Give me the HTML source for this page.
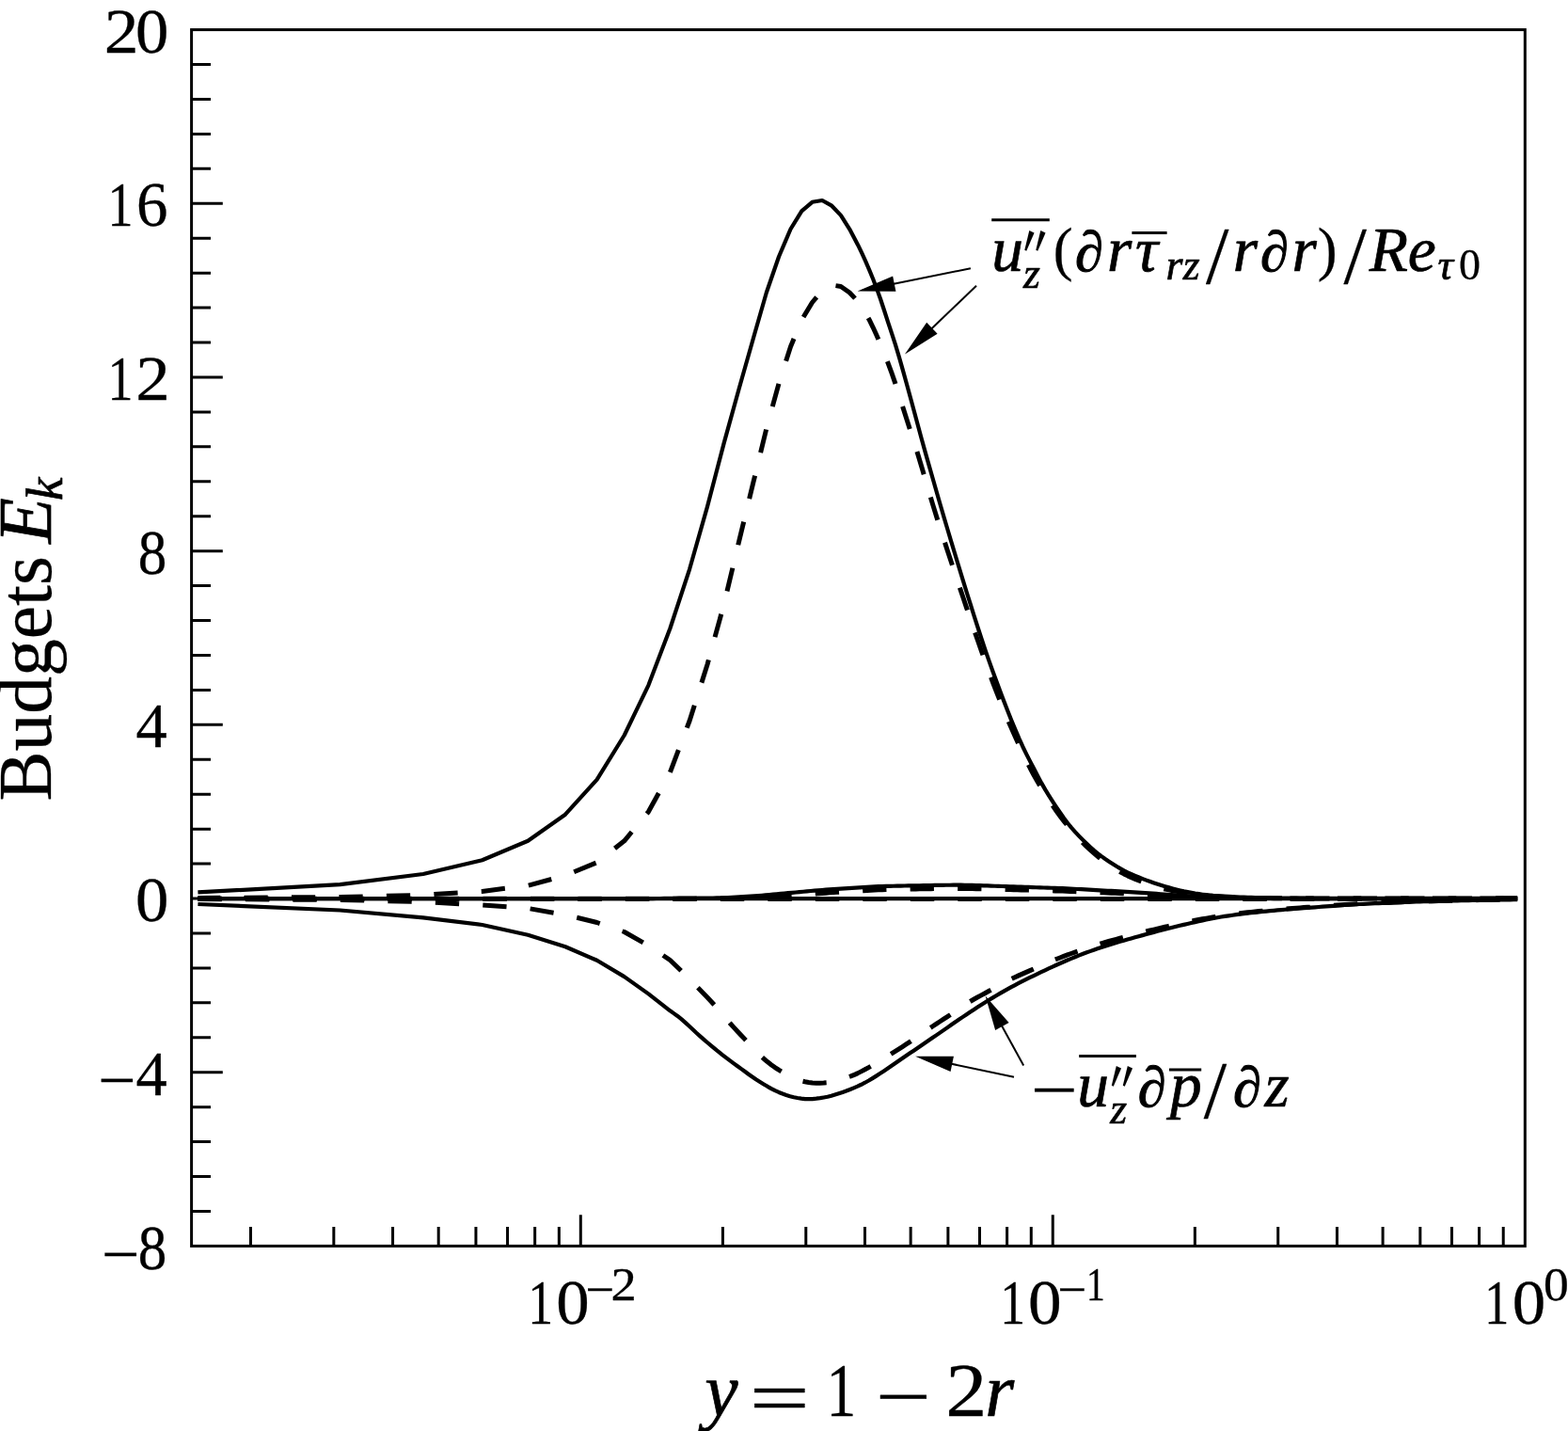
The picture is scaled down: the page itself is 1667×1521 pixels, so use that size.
<!DOCTYPE html>
<html lang="en"><head><meta charset="utf-8"><title>Budgets E_k</title>
<style>
html,body{margin:0;padding:0;background:#fff;overflow:hidden}
svg{display:block}
text{font-family:"Liberation Serif","DejaVu Serif",serif;fill:#000;stroke:#000;stroke-width:0.3px;stroke-linejoin:round}
.i{font-style:italic;stroke-width:0.7px}
.p{stroke-width:1.1px}
.q{stroke-width:0}
</style></head>
<body>
<svg width="1667" height="1521" viewBox="0 0 1667 1521">
<rect width="1667" height="1521" fill="#fff"/>
<g id="curves">
<path d="M210.42 955.1 L700 955.1 L1004.4 955.1 L1308.8 955.1 L1613.2 955.1" fill="none" stroke="#000" stroke-width="4.2" stroke-linejoin="round"/>
<path d="M210.42 955.1 L690 955.1 L694 955.07 L697.99 955.02 L701.99 954.98 L705.99 954.95 L709.98 954.92 L713.98 954.89 L717.98 954.87 L721.97 954.84 L725.97 954.82 L729.97 954.79 L733.96 954.77 L737.96 954.74 L741.95 954.71 L745.95 954.67 L749.95 954.63 L753.94 954.58 L757.94 954.53 L761.94 954.47 L765.93 954.36 L769.93 954.23 L773.93 954.05 L777.92 953.86 L781.92 953.63 L785.92 953.4 L789.91 953.15 L793.91 952.89 L797.91 952.63 L801.9 952.37 L805.9 952.09 L809.9 951.77 L813.89 951.43 L817.89 951.07 L821.89 950.69 L825.88 950.31 L829.88 949.93 L833.88 949.55 L837.87 949.19 L841.87 948.84 L845.86 948.48 L849.86 948.11 L853.86 947.75 L857.85 947.38 L861.85 947.02 L865.85 946.66 L869.84 946.32 L873.84 945.98 L877.84 945.66 L881.83 945.36 L885.83 945.08 L889.83 944.8 L893.82 944.53 L897.82 944.28 L901.82 944.03 L905.81 943.79 L909.81 943.55 L913.81 943.3 L917.8 943.06 L921.8 942.83 L925.8 942.6 L929.79 942.4 L933.79 942.22 L937.79 942.07 L941.78 941.95 L945.78 941.84 L949.77 941.75 L953.77 941.66 L957.77 941.58 L961.76 941.5 L965.76 941.43 L969.76 941.36 L973.75 941.3 L977.75 941.24 L981.75 941.17 L985.74 941.1 L989.74 941.03 L993.74 940.96 L997.73 940.89 L1001.73 940.83 L1005.73 940.77 L1009.72 940.73 L1013.72 940.71 L1017.72 940.7 L1021.71 940.72 L1025.71 940.78 L1029.71 940.85 L1033.7 940.95 L1037.7 941.07 L1041.7 941.19 L1045.69 941.33 L1049.69 941.46 L1053.68 941.6 L1057.68 941.73 L1061.68 941.85 L1065.67 941.98 L1069.67 942.11 L1073.67 942.25 L1077.66 942.39 L1081.66 942.54 L1085.66 942.68 L1089.65 942.83 L1093.65 942.97 L1097.65 943.12 L1101.64 943.26 L1105.64 943.39 L1109.64 943.52 L1113.63 943.64 L1117.63 943.77 L1121.63 943.91 L1125.62 944.05 L1129.62 944.2 L1133.62 944.37 L1137.61 944.56 L1141.61 944.77 L1145.61 944.99 L1149.6 945.21 L1153.6 945.44 L1157.59 945.67 L1161.59 945.89 L1165.59 946.1 L1169.58 946.32 L1173.58 946.54 L1177.58 946.75 L1181.57 946.97 L1185.57 947.19 L1189.57 947.41 L1193.56 947.64 L1197.56 947.86 L1201.56 948.09 L1205.55 948.31 L1209.55 948.54 L1213.55 948.78 L1217.54 949.04 L1221.54 949.32 L1225.54 949.62 L1229.53 949.94 L1233.53 950.27 L1237.53 950.59 L1241.52 950.91 L1245.52 951.2 L1249.52 951.47 L1253.51 951.71 L1257.51 951.92 L1261.5 952.13 L1265.5 952.33 L1269.5 952.52 L1273.49 952.72 L1277.49 952.94 L1281.49 953.17 L1285.48 953.42 L1289.48 953.66 L1293.48 953.89 L1297.47 954.08 L1301.47 954.23 L1305.47 954.33 L1309.46 954.41 L1313.46 954.49 L1317.46 954.57 L1321.45 954.64 L1325.45 954.7 L1329.45 954.76 L1333.44 954.81 L1337.44 954.86 L1341.44 954.9 L1345.43 954.94 L1349.43 954.96 L1353.43 954.98 L1357.42 955 L1361.42 955 L1365.41 955.01 L1369.41 955.01 L1373.41 955.01 L1377.4 955.02 L1381.4 955.02 L1385.4 955.02 L1389.39 955.03 L1393.39 955.03 L1397.39 955.03 L1401.38 955.03 L1405.38 955.04 L1409.38 955.04 L1413.37 955.04 L1417.37 955.05 L1421.37 955.05 L1425.36 955.05 L1429.36 955.05 L1433.36 955.06 L1437.35 955.06 L1441.35 955.06 L1445.35 955.06 L1449.34 955.06 L1453.34 955.07 L1457.34 955.07 L1461.33 955.07 L1465.33 955.07 L1469.32 955.07 L1473.32 955.08 L1477.32 955.08 L1481.31 955.08 L1485.31 955.08 L1489.31 955.08 L1493.3 955.08 L1497.3 955.08 L1501.3 955.09 L1505.29 955.09 L1509.29 955.09 L1513.29 955.09 L1517.28 955.09 L1521.28 955.09 L1525.28 955.09 L1529.27 955.09 L1533.27 955.09 L1537.27 955.09 L1541.26 955.09 L1545.26 955.1 L1549.26 955.1 L1553.25 955.1 L1557.25 955.1 L1561.25 955.1 L1565.24 955.1 L1569.24 955.1 L1573.23 955.1 L1577.23 955.1 L1581.23 955.1 L1585.22 955.1 L1589.22 955.1 L1593.22 955.1 L1597.21 955.1 L1601.21 955.1 L1605.21 955.1 L1609.2 955.1 L1613.2 955.1" fill="none" stroke="#000" stroke-width="4.2" stroke-linejoin="round"/>
<path d="M210.42 955.4 L700 955.4 L1004.4 955.4 L1308.8 955.4 L1613.2 955.4" fill="none" stroke="#000" stroke-width="5" stroke-linejoin="round" stroke-dasharray="25.3 25.2"/>
<path d="M210.42 955.1 L690 955.3 L694 955.27 L697.99 955.22 L701.99 955.19 L705.99 955.17 L709.98 955.15 L713.98 955.14 L717.98 955.13 L721.97 955.12 L725.97 955.11 L729.97 955.1 L733.96 955.1 L737.96 955.09 L741.95 955.08 L745.95 955.06 L749.95 955.05 L753.94 955.03 L757.94 955.01 L761.94 954.99 L765.93 954.94 L769.93 954.87 L773.93 954.79 L777.92 954.69 L781.92 954.58 L785.92 954.46 L789.91 954.33 L793.91 954.2 L797.91 954.07 L801.9 953.93 L805.9 953.78 L809.9 953.62 L813.89 953.44 L817.89 953.24 L821.89 953.03 L825.88 952.82 L829.88 952.59 L833.88 952.36 L837.87 952.13 L841.87 951.88 L845.86 951.62 L849.86 951.33 L853.86 951.03 L857.85 950.71 L861.85 950.39 L865.85 950.07 L869.84 949.75 L873.84 949.44 L877.84 949.15 L881.83 948.88 L885.83 948.61 L889.83 948.36 L893.82 948.11 L897.82 947.86 L901.82 947.63 L905.81 947.39 L909.81 947.16 L913.81 946.91 L917.8 946.67 L921.8 946.43 L925.8 946.21 L929.79 946.01 L933.79 945.82 L937.79 945.67 L941.78 945.55 L945.78 945.44 L949.77 945.34 L953.77 945.25 L957.77 945.17 L961.76 945.09 L965.76 945.02 L969.76 944.95 L973.75 944.89 L977.75 944.83 L981.75 944.78 L985.74 944.72 L989.74 944.66 L993.74 944.6 L997.73 944.55 L1001.73 944.5 L1005.73 944.46 L1009.72 944.42 L1013.72 944.41 L1017.72 944.4 L1021.71 944.42 L1025.71 944.45 L1029.71 944.51 L1033.7 944.58 L1037.7 944.66 L1041.7 944.75 L1045.69 944.85 L1049.69 944.95 L1053.68 945.05 L1057.68 945.15 L1061.68 945.24 L1065.67 945.33 L1069.67 945.44 L1073.67 945.54 L1077.66 945.66 L1081.66 945.77 L1085.66 945.89 L1089.65 946 L1093.65 946.12 L1097.65 946.23 L1101.64 946.35 L1105.64 946.45 L1109.64 946.56 L1113.63 946.67 L1117.63 946.77 L1121.63 946.88 L1125.62 947 L1129.62 947.12 L1133.62 947.25 L1137.61 947.4 L1141.61 947.55 L1145.61 947.71 L1149.6 947.87 L1153.6 948.04 L1157.59 948.2 L1161.59 948.36 L1165.59 948.53 L1169.58 948.69 L1173.58 948.86 L1177.58 949.03 L1181.57 949.2 L1185.57 949.37 L1189.57 949.54 L1193.56 949.71 L1197.56 949.89 L1201.56 950.07 L1205.55 950.25 L1209.55 950.44 L1213.55 950.63 L1217.54 950.83 L1221.54 951.04 L1225.54 951.26 L1229.53 951.49 L1233.53 951.72 L1237.53 951.95 L1241.52 952.17 L1245.52 952.38 L1249.52 952.58 L1253.51 952.76 L1257.51 952.93 L1261.5 953.09 L1265.5 953.24 L1269.5 953.4 L1273.49 953.54 L1277.49 953.7 L1281.49 953.86 L1285.48 954.02 L1289.48 954.18 L1293.48 954.33 L1297.47 954.45 L1301.47 954.55 L1305.47 954.62 L1309.46 954.68 L1313.46 954.74 L1317.46 954.79 L1321.45 954.84 L1325.45 954.89 L1329.45 954.93 L1333.44 954.97 L1337.44 955 L1341.44 955.03 L1345.43 955.06 L1349.43 955.08 L1353.43 955.09 L1357.42 955.1 L1361.42 955.1 L1365.41 955.1 L1369.41 955.1 L1373.41 955.1 L1377.4 955.1 L1381.4 955.1 L1385.4 955.1 L1389.39 955.1 L1393.39 955.1 L1397.39 955.1 L1401.38 955.1 L1405.38 955.1 L1409.38 955.1 L1413.37 955.1 L1417.37 955.1 L1421.37 955.1 L1425.36 955.1 L1429.36 955.1 L1433.36 955.1 L1437.35 955.1 L1441.35 955.1 L1445.35 955.1 L1449.34 955.1 L1453.34 955.1 L1457.34 955.1 L1461.33 955.1 L1465.33 955.1 L1469.32 955.1 L1473.32 955.1 L1477.32 955.1 L1481.31 955.1 L1485.31 955.1 L1489.31 955.1 L1493.3 955.1 L1497.3 955.1 L1501.3 955.1 L1505.29 955.1 L1509.29 955.1 L1513.29 955.1 L1517.28 955.1 L1521.28 955.1 L1525.28 955.1 L1529.27 955.1 L1533.27 955.1 L1537.27 955.1 L1541.26 955.1 L1545.26 955.1 L1549.26 955.1 L1553.25 955.1 L1557.25 955.1 L1561.25 955.1 L1565.24 955.1 L1569.24 955.1 L1573.23 955.1 L1577.23 955.1 L1581.23 955.1 L1585.22 955.1 L1589.22 955.1 L1593.22 955.1 L1597.21 955.1 L1601.21 955.1 L1605.21 955.1 L1609.2 955.1 L1613.2 955.1" fill="none" stroke="#000" stroke-width="5" stroke-linejoin="round" stroke-dasharray="25.3 25.2"/>
<path d="M210.42 948.4 L361.52 940.2 L449.91 929 L512.62 914.3 L561.27 893.8 L601.01 865.7 L634.62 828.6 L663.73 781.5 L689.4 728.3 L712.37 668 L733.15 604.8 L752.11 538.1 L769.56 471.4 L785.72 413 L800.76 360 L814.83 311 L828.04 272.8 L840.5 243.5 L852.29 224.3 L863.47 214.8 L874.11 213 L884.25 218.7 L893.94 228.9 L903.22 243.6 L912.12 260.4 L916.1 268.66 L920.08 277.4 L924.07 286.59 L928.05 296.33 L932.03 306.65 L936.02 317.73 L940 329.73 L943.98 342.1 L947.97 354.09 L951.95 366.33 L955.93 379.56 L959.92 393.66 L963.9 407.95 L967.88 422.51 L971.87 437.28 L975.85 452.03 L979.83 466.7 L983.82 481.13 L987.8 495.12 L991.78 508.99 L995.77 522.99 L999.75 536.74 L1003.73 550.31 L1007.72 563.75 L1011.7 577.06 L1015.68 590.26 L1019.67 603.37 L1023.65 616.38 L1027.63 629.25 L1031.62 641.95 L1035.6 654.51 L1039.59 666.99 L1043.57 679.27 L1047.55 691.2 L1051.54 702.67 L1055.52 713.75 L1059.5 724.54 L1063.49 735.16 L1067.47 745.72 L1071.45 756.11 L1075.44 766.01 L1079.42 775.66 L1083.4 784.95 L1087.39 793.72 L1091.37 801.85 L1095.35 809.59 L1099.34 817.29 L1103.32 824.96 L1107.3 832.39 L1111.29 839.39 L1115.27 845.94 L1119.25 852.19 L1123.24 858.18 L1127.22 863.98 L1131.2 869.65 L1135.19 875.03 L1139.17 879.93 L1143.15 884.4 L1147.14 888.59 L1151.12 892.63 L1155.1 896.59 L1159.09 900.39 L1163.07 903.91 L1167.06 907.12 L1171.04 910.12 L1175.02 912.95 L1179.01 915.65 L1182.99 918.24 L1186.97 920.74 L1190.96 923.11 L1194.94 925.31 L1198.92 927.31 L1202.91 929.16 L1206.89 930.9 L1210.87 932.54 L1214.86 934.11 L1218.84 935.61 L1222.82 937.05 L1226.81 938.41 L1230.79 939.73 L1234.77 940.98 L1238.76 942.19 L1242.74 943.33 L1246.72 944.41 L1250.71 945.45 L1254.69 946.43 L1258.67 947.33 L1262.66 948.13 L1266.64 948.89 L1270.62 949.59 L1274.61 950.2 L1278.59 950.72 L1282.57 951.18 L1286.56 951.6 L1290.54 951.98 L1294.53 952.3 L1298.51 952.57 L1302.49 952.78 L1306.48 952.99 L1310.46 953.18 L1314.44 953.36 L1318.43 953.52 L1322.41 953.67 L1326.39 953.81 L1330.38 953.93 L1334.36 954.04 L1338.34 954.13 L1342.33 954.2 L1346.31 954.27 L1350.29 954.33 L1354.28 954.39 L1358.26 954.45 L1362.24 954.51 L1366.23 954.56 L1370.21 954.61 L1374.19 954.65 L1378.18 954.69 L1382.16 954.73 L1386.14 954.76 L1390.13 954.78 L1394.11 954.79 L1398.09 954.8 L1402.08 954.8 L1406.06 954.8 L1410.04 954.8 L1414.03 954.8 L1418.01 954.8 L1422 954.8 L1425.98 954.8 L1429.96 954.8 L1433.95 954.8 L1437.93 954.8 L1441.91 954.8 L1445.9 954.8 L1449.88 954.8 L1453.86 954.8 L1457.85 954.8 L1461.83 954.8 L1465.81 954.8 L1469.8 954.8 L1473.78 954.8 L1477.76 954.8 L1481.75 954.79 L1485.73 954.79 L1489.71 954.79 L1493.7 954.79 L1497.68 954.79 L1501.66 954.79 L1505.65 954.79 L1509.63 954.79 L1513.61 954.78 L1517.6 954.78 L1521.58 954.78 L1525.56 954.78 L1529.55 954.78 L1533.53 954.78 L1537.51 954.77 L1541.5 954.77 L1545.48 954.77 L1549.47 954.77 L1553.45 954.76 L1557.43 954.76 L1561.42 954.76 L1565.4 954.75 L1569.38 954.75 L1573.37 954.75 L1577.35 954.74 L1581.33 954.74 L1585.32 954.73 L1589.3 954.73 L1593.28 954.73 L1597.27 954.72 L1601.25 954.72 L1605.23 954.71 L1609.22 954.71 L1613.2 954.7" fill="none" stroke="#000" stroke-width="4.2" stroke-linejoin="round"/>
<path d="M210.42 961 L361.52 967.5 L449.91 975.4 L512.62 983 L561.27 993.8 L601.01 1006.3 L634.62 1020.8 L663.73 1038.1 L689.4 1056.4 L712.37 1074.3 L716.36 1077.11 L720.34 1079.94 L724.33 1083.13 L728.31 1086.63 L732.3 1090.32 L736.29 1094.07 L740.27 1097.78 L744.26 1101.32 L748.24 1104.8 L752.23 1108.25 L756.22 1111.64 L760.2 1114.97 L764.19 1118.21 L768.17 1121.35 L772.16 1124.41 L776.14 1127.4 L780.13 1130.34 L784.12 1133.25 L788.1 1136.14 L792.09 1139.05 L796.07 1141.96 L800.06 1144.79 L804.05 1147.49 L808.03 1150.02 L812.02 1152.44 L816 1154.81 L819.99 1157.06 L823.98 1159.13 L827.96 1160.94 L831.95 1162.49 L835.93 1163.93 L839.92 1165.21 L843.91 1166.25 L847.89 1166.97 L851.88 1167.58 L855.86 1168.04 L859.85 1168.2 L863.84 1168.04 L867.82 1167.65 L871.81 1167.12 L875.79 1166.5 L879.78 1165.8 L883.77 1164.81 L887.75 1163.6 L891.74 1162.29 L895.72 1160.95 L899.71 1159.54 L903.7 1158.01 L907.68 1156.37 L911.67 1154.63 L915.65 1152.77 L919.64 1150.74 L923.63 1148.51 L927.61 1146.12 L931.6 1143.63 L935.58 1141.09 L939.57 1138.53 L943.56 1135.85 L947.54 1133.09 L951.53 1130.28 L955.51 1127.48 L959.5 1124.73 L963.49 1122.02 L967.47 1119.33 L971.46 1116.65 L975.44 1113.96 L979.43 1111.26 L983.42 1108.55 L987.4 1105.83 L991.39 1103.1 L995.37 1100.36 L999.36 1097.62 L1003.35 1094.88 L1007.33 1092.12 L1011.32 1089.34 L1015.3 1086.57 L1019.29 1083.82 L1023.28 1081.12 L1027.26 1078.46 L1031.25 1075.81 L1035.23 1073.19 L1039.22 1070.59 L1043.21 1068.02 L1047.19 1065.5 L1051.18 1063.02 L1055.16 1060.6 L1059.15 1058.22 L1063.14 1055.89 L1067.12 1053.6 L1071.11 1051.36 L1075.09 1049.16 L1079.08 1047.03 L1083.07 1044.95 L1087.05 1042.92 L1091.04 1040.94 L1095.02 1038.98 L1099.01 1037.05 L1103 1035.12 L1106.98 1033.2 L1110.97 1031.3 L1114.95 1029.43 L1118.94 1027.58 L1122.92 1025.77 L1126.91 1024 L1130.9 1022.26 L1134.88 1020.55 L1138.87 1018.86 L1142.85 1017.22 L1146.84 1015.63 L1150.83 1014.08 L1154.81 1012.58 L1158.8 1011.12 L1162.78 1009.69 L1166.77 1008.3 L1170.76 1006.96 L1174.74 1005.66 L1178.73 1004.4 L1182.71 1003.18 L1186.7 1001.99 L1190.69 1000.82 L1194.67 999.68 L1198.66 998.55 L1202.64 997.44 L1206.63 996.33 L1210.62 995.23 L1214.6 994.13 L1218.59 993.03 L1222.57 991.94 L1226.56 990.86 L1230.55 989.79 L1234.53 988.73 L1238.52 987.69 L1242.5 986.68 L1246.49 985.68 L1250.48 984.72 L1254.46 983.79 L1258.45 982.87 L1262.43 981.95 L1266.42 981.04 L1270.41 980.13 L1274.39 979.25 L1278.38 978.38 L1282.36 977.54 L1286.35 976.74 L1290.34 975.96 L1294.32 975.23 L1298.31 974.54 L1302.29 973.9 L1306.28 973.31 L1310.27 972.74 L1314.25 972.2 L1318.24 971.68 L1322.22 971.18 L1326.21 970.7 L1330.2 970.24 L1334.18 969.8 L1338.17 969.37 L1342.15 968.96 L1346.14 968.56 L1350.13 968.17 L1354.11 967.79 L1358.1 967.42 L1362.08 967.07 L1366.07 966.73 L1370.06 966.41 L1374.04 966.09 L1378.03 965.78 L1382.01 965.48 L1386 965.18 L1389.99 964.89 L1393.97 964.59 L1397.96 964.3 L1401.94 964 L1405.93 963.7 L1409.92 963.4 L1413.9 963.1 L1417.89 962.8 L1421.87 962.5 L1425.86 962.21 L1429.85 961.94 L1433.83 961.67 L1437.82 961.43 L1441.8 961.2 L1445.79 960.98 L1449.77 960.78 L1453.76 960.58 L1457.75 960.4 L1461.73 960.22 L1465.72 960.04 L1469.7 959.87 L1473.69 959.7 L1477.68 959.54 L1481.66 959.37 L1485.65 959.22 L1489.63 959.07 L1493.62 958.92 L1497.61 958.78 L1501.59 958.65 L1505.58 958.52 L1509.56 958.39 L1513.55 958.27 L1517.54 958.15 L1521.52 958.04 L1525.51 957.93 L1529.49 957.82 L1533.48 957.71 L1537.47 957.61 L1541.45 957.52 L1545.44 957.42 L1549.42 957.33 L1553.41 957.24 L1557.4 957.15 L1561.38 957.06 L1565.37 956.98 L1569.35 956.9 L1573.34 956.82 L1577.33 956.75 L1581.31 956.68 L1585.3 956.61 L1589.28 956.54 L1593.27 956.48 L1597.26 956.42 L1601.24 956.36 L1605.23 956.3 L1609.21 956.25 L1613.2 956.2" fill="none" stroke="#000" stroke-width="4.2" stroke-linejoin="round"/>
<path d="M210.42 954.5 L361.52 953.5 L449.91 951.3 L512.62 947.4 L561.27 941.2 L601.01 930.5 L634.62 916.7 L663.73 893.8 L689.4 862.8 L712.37 821 L733.15 766 L752.11 706 L769.56 642.6 L785.72 575.1 L800.76 513.2 L814.83 455.6 L828.04 407.5 L840.5 368.5 L852.29 340 L863.47 321.5 L874.11 309 L884.25 303 L893.94 304.5 L903.22 311 L912.12 320.5 L916.1 326.07 L920.08 332.54 L924.07 339.69 L928.05 347.81 L932.03 356.58 L936.02 365.69 L940 375.37 L943.98 385.56 L947.97 396.36 L951.95 407.84 L955.93 420.35 L959.92 433.07 L963.9 445.55 L967.88 457.98 L971.87 470.31 L975.85 483.04 L979.83 496.31 L983.82 509.7 L987.8 523.28 L991.78 536.62 L995.77 549.43 L999.75 561.95 L1003.73 574.26 L1007.72 586.47 L1011.7 598.57 L1015.68 610.55 L1019.67 622.43 L1023.65 634.26 L1027.63 646.08 L1031.62 657.86 L1035.6 669.53 L1039.59 681 L1043.57 692.33 L1047.55 703.55 L1051.54 714.57 L1055.52 725.27 L1059.5 735.59 L1063.49 745.66 L1067.47 755.48 L1071.45 765.03 L1075.44 774.26 L1079.42 783.22 L1083.4 792 L1087.39 800.55 L1091.37 808.81 L1095.35 816.72 L1099.34 824.22 L1103.32 831.24 L1107.3 837.87 L1111.29 844.25 L1115.27 850.46 L1119.25 856.46 L1123.24 862.21 L1127.22 867.66 L1131.2 872.88 L1135.19 877.89 L1139.17 882.67 L1143.15 887.2 L1147.14 891.54 L1151.12 895.7 L1155.1 899.65 L1159.09 903.38 L1163.07 906.93 L1167.06 910.33 L1171.04 913.54 L1175.02 916.54 L1179.01 919.33 L1182.99 921.97 L1186.97 924.45 L1190.96 926.76 L1194.94 928.89 L1198.92 930.86 L1202.91 932.71 L1206.89 934.43 L1210.87 936.05 L1214.86 937.6 L1218.84 939.11 L1222.82 940.54 L1226.81 941.88 L1230.79 943.08 L1234.77 944.12 L1238.76 945.05 L1242.74 945.9 L1246.72 946.68 L1250.71 947.4 L1254.69 948.08 L1258.67 948.73 L1262.66 949.36 L1266.64 949.95 L1270.62 950.49 L1274.61 950.98 L1278.59 951.4 L1282.57 951.78 L1286.56 952.14 L1290.54 952.46 L1294.53 952.74 L1298.51 952.97 L1302.49 953.17 L1306.48 953.36 L1310.46 953.54 L1314.44 953.7 L1318.43 953.86 L1322.41 954.01 L1326.39 954.14 L1330.38 954.25 L1334.36 954.35 L1338.34 954.43 L1342.33 954.5 L1346.31 954.56 L1350.29 954.61 L1354.28 954.66 L1358.26 954.71 L1362.24 954.76 L1366.23 954.8 L1370.21 954.84 L1374.19 954.88 L1378.18 954.91 L1382.16 954.94 L1386.14 954.96 L1390.13 954.98 L1394.11 954.99 L1398.09 955 L1402.08 955 L1406.06 955 L1410.04 955 L1414.03 955 L1418.01 955 L1422 955 L1425.98 955 L1429.96 955 L1433.95 955 L1437.93 955 L1441.91 955 L1445.9 955 L1449.88 955 L1453.86 955 L1457.85 955 L1461.83 955 L1465.81 954.99 L1469.8 954.99 L1473.78 954.99 L1477.76 954.99 L1481.75 954.99 L1485.73 954.99 L1489.71 954.99 L1493.7 954.98 L1497.68 954.98 L1501.66 954.98 L1505.65 954.98 L1509.63 954.97 L1513.61 954.97 L1517.6 954.97 L1521.58 954.96 L1525.56 954.96 L1529.55 954.96 L1533.53 954.95 L1537.51 954.95 L1541.5 954.94 L1545.48 954.94 L1549.47 954.93 L1553.45 954.93 L1557.43 954.92 L1561.42 954.91 L1565.4 954.91 L1569.38 954.9 L1573.37 954.89 L1577.35 954.88 L1581.33 954.88 L1585.32 954.87 L1589.3 954.86 L1593.28 954.85 L1597.27 954.84 L1601.25 954.83 L1605.23 954.82 L1609.22 954.81 L1613.2 954.8" fill="none" stroke="#000" stroke-width="5" stroke-linejoin="round" stroke-dasharray="25.3 25.2" stroke-dashoffset="1.5"/>
<path d="M210.42 955.5 L361.52 956.5 L449.91 958.5 L512.62 962 L561.27 965.5 L601.01 972.3 L634.62 980.5 L663.73 990.5 L689.4 1005 L712.37 1020.5 L733.15 1040.5 L752.11 1060.3 L756.1 1064.51 L760.09 1068.9 L764.07 1073.52 L768.06 1078.24 L772.05 1082.94 L776.03 1087.48 L780.02 1091.87 L784.01 1096.18 L787.99 1100.43 L791.98 1104.65 L795.97 1108.96 L799.95 1113.35 L803.94 1117.64 L807.93 1121.65 L811.91 1125.23 L815.9 1128.56 L819.88 1131.68 L823.87 1134.57 L827.86 1137.16 L831.84 1139.5 L835.83 1141.78 L839.82 1143.95 L843.8 1145.92 L847.79 1147.58 L851.78 1148.84 L855.76 1149.72 L859.75 1150.48 L863.74 1151.06 L867.72 1151.3 L871.71 1151.23 L875.7 1151.05 L879.68 1150.78 L883.67 1150.21 L887.66 1149.33 L891.64 1148.23 L895.63 1146.96 L899.62 1145.62 L903.6 1144.25 L907.59 1142.68 L911.57 1140.86 L915.56 1138.86 L919.55 1136.75 L923.53 1134.59 L927.52 1132.41 L931.51 1130.08 L935.49 1127.65 L939.48 1125.15 L943.47 1122.62 L947.45 1120.1 L951.44 1117.6 L955.43 1115.08 L959.41 1112.53 L963.4 1109.95 L967.39 1107.34 L971.37 1104.67 L975.36 1101.93 L979.35 1099.16 L983.33 1096.39 L987.32 1093.66 L991.3 1090.99 L995.29 1088.36 L999.28 1085.76 L1003.26 1083.16 L1007.25 1080.55 L1011.24 1077.91 L1015.22 1075.2 L1019.21 1072.47 L1023.2 1069.76 L1027.18 1067.12 L1031.17 1064.62 L1035.16 1062.26 L1039.14 1060.01 L1043.13 1057.83 L1047.12 1055.68 L1051.1 1053.53 L1055.09 1051.34 L1059.08 1049.12 L1063.06 1046.9 L1067.05 1044.72 L1071.03 1042.6 L1075.02 1040.59 L1079.01 1038.69 L1082.99 1036.87 L1086.98 1035.11 L1090.97 1033.38 L1094.95 1031.65 L1098.94 1029.9 L1102.93 1028.12 L1106.91 1026.34 L1110.9 1024.57 L1114.89 1022.84 L1118.87 1021.15 L1122.86 1019.53 L1126.85 1017.96 L1130.83 1016.43 L1134.82 1014.94 L1138.81 1013.48 L1142.79 1012.04 L1146.78 1010.63 L1150.77 1009.24 L1154.75 1007.87 L1158.74 1006.53 L1162.72 1005.23 L1166.71 1003.98 L1170.7 1002.77 L1174.68 1001.62 L1178.67 1000.5 L1182.66 999.41 L1186.64 998.34 L1190.63 997.28 L1194.62 996.22 L1198.6 995.17 L1202.59 994.12 L1206.58 993.08 L1210.56 992.05 L1214.55 991.03 L1218.54 990.03 L1222.52 989.05 L1226.51 988.09 L1230.5 987.15 L1234.48 986.21 L1238.47 985.28 L1242.45 984.35 L1246.44 983.42 L1250.43 982.51 L1254.41 981.62 L1258.4 980.75 L1262.39 979.9 L1266.37 979.08 L1270.36 978.29 L1274.35 977.53 L1278.33 976.82 L1282.32 976.13 L1286.31 975.46 L1290.29 974.81 L1294.28 974.17 L1298.27 973.56 L1302.25 972.96 L1306.24 972.38 L1310.23 971.82 L1314.21 971.29 L1318.2 970.77 L1322.18 970.28 L1326.17 969.82 L1330.16 969.37 L1334.14 968.95 L1338.13 968.55 L1342.12 968.17 L1346.1 967.79 L1350.09 967.44 L1354.08 967.09 L1358.06 966.75 L1362.05 966.43 L1366.04 966.11 L1370.02 965.79 L1374.01 965.48 L1378 965.18 L1381.98 964.88 L1385.97 964.59 L1389.96 964.32 L1393.94 964.05 L1397.93 963.78 L1401.92 963.51 L1405.9 963.23 L1409.89 962.94 L1413.87 962.65 L1417.86 962.35 L1421.85 962.07 L1425.83 961.78 L1429.82 961.51 L1433.81 961.26 L1437.79 961.02 L1441.78 960.81 L1445.77 960.61 L1449.75 960.42 L1453.74 960.24 L1457.73 960.07 L1461.71 959.9 L1465.7 959.74 L1469.69 959.57 L1473.67 959.41 L1477.66 959.24 L1481.65 959.08 L1485.63 958.92 L1489.62 958.76 L1493.6 958.62 L1497.59 958.48 L1501.58 958.35 L1505.56 958.23 L1509.55 958.12 L1513.54 958.01 L1517.52 957.9 L1521.51 957.8 L1525.5 957.7 L1529.48 957.6 L1533.47 957.51 L1537.46 957.41 L1541.44 957.32 L1545.43 957.23 L1549.42 957.13 L1553.4 957.04 L1557.39 956.95 L1561.38 956.87 L1565.36 956.78 L1569.35 956.7 L1573.33 956.62 L1577.32 956.55 L1581.31 956.48 L1585.29 956.41 L1589.28 956.34 L1593.27 956.28 L1597.25 956.22 L1601.24 956.16 L1605.23 956.1 L1609.21 956.05 L1613.2 956" fill="none" stroke="#000" stroke-width="5" stroke-linejoin="round" stroke-dasharray="25.3 25.2"/>
</g>
<g id="axes">
<rect x="203.6" y="31.6" width="1417.7" height="1292.8" fill="none" stroke="#000" stroke-width="3"/>
<path d="M203.6 68.54h20.4M203.6 105.47h20.4M203.6 142.41h20.4M203.6 179.35h20.4M203.6 216.29h33.2M203.6 253.22h20.4M203.6 290.16h20.4M203.6 327.1h20.4M203.6 364.03h20.4M203.6 400.97h33.2M203.6 437.91h20.4M203.6 474.85h20.4M203.6 511.78h20.4M203.6 548.72h20.4M203.6 585.66h33.2M203.6 622.59h20.4M203.6 659.53h20.4M203.6 696.47h20.4M203.6 733.41h20.4M203.6 770.34h33.2M203.6 807.28h20.4M203.6 844.22h20.4M203.6 881.15h20.4M203.6 918.09h20.4M203.6 955.03h33.2M203.6 991.97h20.4M203.6 1028.9h20.4M203.6 1065.84h20.4M203.6 1102.78h20.4M203.6 1139.71h33.2M203.6 1176.65h20.4M203.6 1213.59h20.4M203.6 1250.53h20.4M203.6 1287.46h20.4M266.45 1324.4v-20.4M354.84 1324.4v-20.4M417.55 1324.4v-20.4M466.2 1324.4v-20.4M505.94 1324.4v-20.4M539.55 1324.4v-20.4M568.66 1324.4v-20.4M594.33 1324.4v-20.4M617.3 1324.4v-33.2M768.4 1324.4v-20.4M856.79 1324.4v-20.4M919.5 1324.4v-20.4M968.15 1324.4v-20.4M1007.89 1324.4v-20.4M1041.5 1324.4v-20.4M1070.61 1324.4v-20.4M1096.28 1324.4v-20.4M1119.25 1324.4v-33.2M1270.35 1324.4v-20.4M1358.74 1324.4v-20.4M1421.45 1324.4v-20.4M1470.1 1324.4v-20.4M1509.84 1324.4v-20.4M1543.45 1324.4v-20.4M1572.56 1324.4v-20.4M1598.23 1324.4v-20.4" fill="none" stroke="#000" stroke-width="3"/>
</g>
<g id="ticklabels">
<text><tspan x="110.82" y="55.7" font-size="68" textLength="36.79" lengthAdjust="spacingAndGlyphs">2</tspan><tspan x="143.95" y="55.7" font-size="68" textLength="35.39" lengthAdjust="spacingAndGlyphs">0</tspan></text>
<text><tspan x="114.41" y="240.39" font-size="68" textLength="26.98" lengthAdjust="spacingAndGlyphs">1</tspan><tspan x="144.97" y="240.39" font-size="68" textLength="33.47" lengthAdjust="spacingAndGlyphs">6</tspan></text>
<text><tspan x="114.41" y="425.07" font-size="68" textLength="26.98" lengthAdjust="spacingAndGlyphs">1</tspan><tspan x="144.34" y="425.07" font-size="68" textLength="36.54" lengthAdjust="spacingAndGlyphs">2</tspan></text>
<text><tspan x="146.72" y="609.76" font-size="68" textLength="30.55" lengthAdjust="spacingAndGlyphs">8</tspan></text>
<text><tspan x="144.45" y="794.44" font-size="68" textLength="33.24" lengthAdjust="spacingAndGlyphs">4</tspan></text>
<text><tspan x="143.95" y="979.13" font-size="68" textLength="35.39" lengthAdjust="spacingAndGlyphs">0</tspan></text>
<text><tspan x="108.34" y="1164.41" font-size="66.98" textLength="32.32" lengthAdjust="spacingAndGlyphs">–</tspan><tspan x="144.45" y="1163.81" font-size="68" textLength="33.24" lengthAdjust="spacingAndGlyphs">4</tspan></text>
<text><tspan x="111.94" y="1349.1" font-size="66.98" textLength="32.51" lengthAdjust="spacingAndGlyphs">–</tspan><tspan x="146.72" y="1348.5" font-size="68" textLength="30.55" lengthAdjust="spacingAndGlyphs">8</tspan></text>
<text><tspan x="561.13" y="1406.9" font-size="68" textLength="26.84" lengthAdjust="spacingAndGlyphs">1</tspan><tspan x="591.15" y="1406.9" font-size="68" textLength="35.39" lengthAdjust="spacingAndGlyphs">0</tspan><tspan x="625.54" y="1382.5" font-size="49.74" textLength="24.72" lengthAdjust="spacingAndGlyphs">–</tspan><tspan x="649.56" y="1381.9" font-size="50.5" textLength="27.19" lengthAdjust="spacingAndGlyphs">2</tspan></text>
<text><tspan x="1063.23" y="1406.9" font-size="68" textLength="26.84" lengthAdjust="spacingAndGlyphs">1</tspan><tspan x="1093.14" y="1406.9" font-size="68" textLength="35.63" lengthAdjust="spacingAndGlyphs">0</tspan><tspan x="1127.44" y="1382.5" font-size="49.74" textLength="24.72" lengthAdjust="spacingAndGlyphs">–</tspan><tspan x="1154.88" y="1381.9" font-size="50.5" textLength="19.74" lengthAdjust="spacingAndGlyphs">1</tspan></text>
<text><tspan x="1578.18" y="1406.9" font-size="68" textLength="25.99" lengthAdjust="spacingAndGlyphs">1</tspan><tspan x="1607.65" y="1406.9" font-size="68" textLength="35.51" lengthAdjust="spacingAndGlyphs">0</tspan><tspan x="1640.91" y="1381.9" font-size="50.5" textLength="26.78" lengthAdjust="spacingAndGlyphs">0</tspan></text>
<text><tspan x="749.26" y="1504.6" font-size="79.5" class="i">y</tspan> <tspan x="796.51" y="1512.84" font-size="79.5" textLength="64.48" lengthAdjust="spacingAndGlyphs">=</tspan> <tspan x="878.56" y="1504.6" font-size="79.5" textLength="31.81" lengthAdjust="spacingAndGlyphs">1</tspan> <tspan x="930.87" y="1511.44" font-size="79.5" textLength="59.26" lengthAdjust="spacingAndGlyphs">−</tspan> <tspan x="1005.17" y="1504.6" font-size="79.5" textLength="44.15" lengthAdjust="spacingAndGlyphs">2</tspan><tspan x="1047.35" y="1504.6" font-size="79.5" class="i">r</tspan></text>
<text transform="translate(53.9 851.6) rotate(-90)" font-size="79.5">Budgets <tspan class="i" x="273.9">E</tspan><tspan class="i" x="319.7" dy="12.2" font-size="55">k</tspan></text>
</g>
<g id="labels">
<text><tspan x="1054.16" y="287.8" font-size="67.5" class="i">u</tspan><tspan x="1079.9" y="302.85" font-size="95" class="q" rotate="16" textLength="12.47" lengthAdjust="spacingAndGlyphs">′</tspan><tspan x="1091.9" y="302.85" font-size="95" class="q" rotate="16" textLength="12.47" lengthAdjust="spacingAndGlyphs">′</tspan><tspan x="1088.01" y="306.2" font-size="46" class="i">z</tspan><tspan x="1119.83" y="286.2" font-size="62.5">(</tspan><tspan x="1142.89" y="287.8" font-size="60.5" class="p">∂</tspan><tspan x="1176.9" y="287.8" font-size="67.5" class="i">r</tspan><tspan x="1207.06" y="287.8" font-size="67.5" class="i">τ</tspan><tspan x="1239.45" y="296.8" font-size="46" class="i">r</tspan><tspan x="1257.81" y="296.8" font-size="46" class="i">z</tspan><tspan x="1281.92" y="300.7" font-size="87.7">/</tspan><tspan x="1310.7" y="287.8" font-size="67.5" class="i">r</tspan><tspan x="1339.99" y="287.8" font-size="60.5" class="p">∂</tspan><tspan x="1373.5" y="287.8" font-size="67.5" class="i">r</tspan><tspan x="1400.66" y="286.2" font-size="62.5">)</tspan><tspan x="1428.42" y="300.7" font-size="87.7">/</tspan><tspan x="1455.63" y="287.8" font-size="67.5" class="i">R</tspan><tspan x="1496.69" y="287.8" font-size="67.5" class="i">e</tspan><tspan x="1528.62" y="296.8" font-size="46" class="i">τ</tspan><tspan x="1551" y="296.8" font-size="46">0</tspan></text>
<path d="M1054.2 233.8H1115.8M1203.4 247.5H1240.6" stroke="#000" stroke-width="3" fill="none"/>
<text><tspan x="1095.47" y="1181.01" font-size="67.5" textLength="50.18" lengthAdjust="spacingAndGlyphs">−</tspan><tspan x="1145.16" y="1175.6" font-size="67.5" class="i">u</tspan><tspan x="1172.5" y="1190.65" font-size="95" class="q" rotate="16" textLength="12.47" lengthAdjust="spacingAndGlyphs">′</tspan><tspan x="1184.5" y="1190.65" font-size="95" class="q" rotate="16" textLength="12.47" lengthAdjust="spacingAndGlyphs">′</tspan><tspan x="1180.16" y="1194.2" font-size="46" class="i">z</tspan><tspan x="1209.84" y="1175.6" font-size="60.5" class="p">∂</tspan><tspan x="1243.97" y="1175.6" font-size="67.5" class="i">p</tspan><tspan x="1279.82" y="1188.4" font-size="87.7">/</tspan><tspan x="1310.99" y="1175.6" font-size="60.5" class="p">∂</tspan><tspan x="1344.44" y="1175.6" font-size="67.5" class="i">z</tspan></text>
<path d="M1147.2 1122.6H1207.9M1243 1137H1277.2" stroke="#000" stroke-width="3" fill="none"/>
<path d="M1031.9 285.2L948.84 302.05" stroke="#000" stroke-width="2" fill="none"/><path d="M911.6 309.6L949.16 293.56L952.44 309.73Z" fill="#000"/>
<path d="M1038 303.7L989.44 350.21" stroke="#000" stroke-width="2" fill="none"/><path d="M962 376.5L985.18 342.87L996.59 354.79Z" fill="#000"/>
<path d="M1078 1144.7L1010.29 1130.5" stroke="#000" stroke-width="2" fill="none"/><path d="M973.1 1122.7L1013.94 1122.84L1010.55 1138.98Z" fill="#000"/>
<path d="M1088.2 1132.6L1064.44 1089.29" stroke="#000" stroke-width="2" fill="none"/><path d="M1047.6 1058.6L1072.63 1087.07L1058.16 1095.01Z" fill="#000"/>
</g>
</svg>
</body></html>
